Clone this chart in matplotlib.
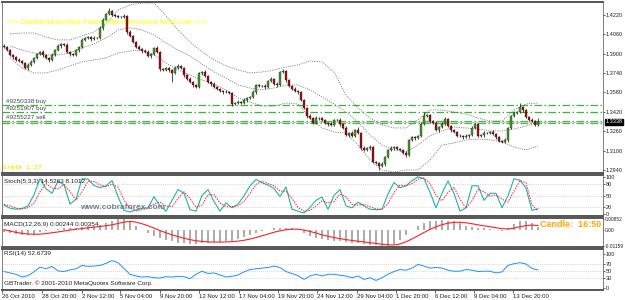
import numpy as np
import matplotlib.pyplot as plt
from matplotlib.transforms import blended_transform_factory

plt.rcParams['font.family'] = ['Liberation Sans', 'DejaVu Sans']

# ---- EURUSD H4 data ----
open_first = 1.3965
closes = [
    1.3956, 1.3931, 1.3890, 1.3873, 1.3848, 1.3840, 1.3824, 1.3782, 1.3807, 1.3832,
    1.3865, 1.3898, 1.3915, 1.3890, 1.3865, 1.3848, 1.3890, 1.3931, 1.3964, 1.3981,
    1.3972, 1.3915, 1.3898, 1.3890, 1.3931, 1.3956, 1.4014, 1.4030, 1.4038, 1.4022,
    1.4030, 1.4030, 1.4113, 1.4179, 1.4228, 1.4253, 1.4220, 1.4212, 1.4204, 1.4204,
    1.4212, 1.4080, 1.4047, 1.3997, 1.3956, 1.3939, 1.3923, 1.3915, 1.3881, 1.3898,
    1.3948, 1.3915, 1.3774, 1.3766, 1.3782, 1.3766, 1.3741, 1.3782, 1.3799, 1.3782,
    1.3725, 1.3692, 1.3667, 1.3642, 1.3625, 1.3741, 1.3749, 1.3716, 1.3667, 1.3650,
    1.3625, 1.3609, 1.3592, 1.3584, 1.3584, 1.3576, 1.3485, 1.3493, 1.3502, 1.3493,
    1.3518, 1.3535, 1.3543, 1.3584, 1.3642, 1.3634, 1.3634, 1.3625, 1.3675, 1.3692,
    1.3650, 1.3642, 1.3749, 1.3757, 1.3683, 1.3634, 1.3609, 1.3592, 1.3584, 1.3518,
    1.3452, 1.3386, 1.3369, 1.3328, 1.3369, 1.3369, 1.3353, 1.3328, 1.3320, 1.3312,
    1.3353, 1.3353, 1.3320, 1.3287, 1.3229, 1.3245, 1.3221, 1.3270, 1.3245, 1.3122,
    1.3105, 1.3122, 1.3130, 1.3006, 1.2998, 1.2973, 1.2989, 1.3047, 1.3105, 1.3122,
    1.3130, 1.3113, 1.3105, 1.3080, 1.3064, 1.3188, 1.3212, 1.3204, 1.3221, 1.3320,
    1.3386, 1.3394, 1.3345, 1.3328, 1.3270, 1.3295, 1.3320, 1.3361, 1.3303, 1.3270,
    1.3254, 1.3221, 1.3221, 1.3212, 1.3221, 1.3229, 1.3287, 1.3320, 1.3221, 1.3229,
    1.3245, 1.3245, 1.3254, 1.3237, 1.3212, 1.3179, 1.3171, 1.3188, 1.3287, 1.3386,
    1.3411, 1.3419, 1.3460, 1.3435, 1.3378, 1.3353, 1.3345, 1.3312, 1.3338,
]
# wick lengths in pips above / below the body
hi_pips = [
    12, 8, 10, 6, 9, 14, 7, 10, 15, 12, 8, 11, 9, 13, 7, 10, 12, 8, 14, 9,
    10, 13, 8, 12, 9, 11, 15, 10, 12, 9, 14, 8, 16, 12, 10, 25, 9, 12, 8, 11,
    14, 10, 12, 9, 11, 13, 8, 12, 15, 10, 9, 14, 11, 8, 12, 10, 9, 13, 16, 10,
    12, 9, 14, 11, 8, 12, 10, 15, 9, 11, 13, 10, 8, 12, 14, 9, 11, 10, 12, 8,
    13, 10, 9, 14, 12, 8, 11, 16, 10, 12, 9, 13, 11, 15, 10, 12, 9, 14, 8, 11,
    12, 10, 13, 9, 15, 11, 8, 12, 10, 14, 9, 11, 13, 10, 12, 9, 15, 11, 25, 10,
    12, 9, 14, 10, 11, 8, 13, 12, 10, 15, 9, 11, 12, 10, 14, 9, 12, 11, 10, 13,
    33, 12, 10, 9, 14, 11, 13, 17, 10, 12, 9, 11, 14, 10, 12, 9, 13, 11, 10, 12,
    15, 9, 11, 13, 10, 12, 9, 14, 11, 10, 13, 12, 33, 10, 12, 9, 14, 11, 31,
]
lo_pips = [
    9, 12, 10, 14, 8, 11, 13, 9, 16, 10, 12, 8, 11, 14, 9, 13, 10, 12, 8, 15,
    11, 9, 13, 10, 12, 14, 8, 11, 9, 13, 10, 12, 8, 14, 11, 9, 12, 10, 13, 9,
    11, 14, 9, 12, 10, 8, 13, 11, 9, 15, 12, 10, 14, 9, 11, 13, 74, 10, 12, 9,
    14, 11, 9, 13, 10, 12, 15, 9, 11, 14, 10, 12, 9, 13, 11, 10, 16, 9, 12, 11,
    10, 13, 9, 12, 15, 11, 10, 14, 9, 12, 11, 13, 10, 9, 14, 12, 11, 10, 13, 9,
    12, 14, 10, 11, 9, 13, 12, 10, 15, 11, 9, 12, 14, 10, 11, 13, 9, 12, 10, 14,
    11, 9, 13, 12, 10, 33, 11, 14, 9, 12, 13, 10, 11, 9, 15, 12, 10, 13, 11, 9,
    12, 10, 14, 11, 9, 13, 10, 12, 11, 14, 9, 12, 10, 13, 11, 15, 9, 12, 10, 11,
    13, 10, 12, 9, 14, 11, 10, 12, 13, 9, 11, 10, 12, 14, 9, 11, 13, 10, 12,
]

# Bollinger bands, read every 4th bar starting at bar 2
bb_upper = [1.4063, 1.4071, 1.4071, 1.4038, 1.4014, 1.4014, 1.4047, 1.4080, 1.4146, 1.4261,
            1.4303, 1.4319, 1.4319, 1.4212, 1.4096, 1.3997, 1.3915, 1.3848, 1.3799, 1.3766,
            1.3741, 1.3749, 1.3766, 1.3791, 1.3807, 1.3840, 1.3832, 1.3749, 1.3559, 1.3452,
            1.3369, 1.3312, 1.3287, 1.3287, 1.3353, 1.3435, 1.3435, 1.3419, 1.3402, 1.3369,
            1.3344, 1.3344, 1.3435, 1.3485, 1.3493]
bb_mid = [1.3964, 1.3931, 1.3906, 1.3890, 1.3890, 1.3906, 1.3948, 1.3981, 1.4030, 1.4096,
          1.4113, 1.4096, 1.4055, 1.3989, 1.3931, 1.3881, 1.3815, 1.3749, 1.3700, 1.3642,
          1.3617, 1.3601, 1.3617, 1.3642, 1.3642, 1.3601, 1.3543, 1.3485, 1.3419, 1.3336,
          1.3229, 1.3146, 1.3105, 1.3089, 1.3146, 1.3221, 1.3262, 1.3295, 1.3287, 1.3278,
          1.3262, 1.3262, 1.3278, 1.3303, 1.3336]
bb_lower = [1.3865, 1.3782, 1.3741, 1.3741, 1.3766, 1.3799, 1.3832, 1.3848, 1.3865, 1.3906,
            1.3923, 1.3931, 1.3890, 1.3824, 1.3766, 1.3725, 1.3683, 1.3650, 1.3601, 1.3535,
            1.3501, 1.3468, 1.3468, 1.3493, 1.3485, 1.3369, 1.3287, 1.3254, 1.3245, 1.3146,
            1.3022, 1.2940, 1.2923, 1.2940, 1.2940, 1.3022, 1.3146, 1.3163, 1.3188, 1.3196,
            1.3188, 1.3171, 1.3130, 1.3105, 1.3138]

# oscillators, read every 2nd bar
stoch_main = [24, 16, 13, 15, 22, 52, 95, 68, 56, 88, 79, 27, 40, 95, 94, 77, 71, 76, 90, 47,
              10, 6, 11, 16, 17, 47, 22, 8, 37, 66, 56, 12, 8, 50, 66, 34, 8, 30, 17, 27,
              49, 76, 93, 84, 78, 69, 47, 73, 13, 8, 3, 18, 37, 46, 13, 50, 66, 22, 17, 32,
              22, 13, 12, 13, 54, 85, 71, 76, 90, 100, 95, 59, 17, 56, 89, 56, 8, 17, 76, 76,
              37, 56, 56, 17, 49, 95, 91, 70, 10, 14.5263]
stoch_signal = [26, 22, 16, 14, 17, 30, 60, 82, 70, 68, 80, 60, 38, 60, 88, 88, 78, 74, 80, 72,
                38, 16, 9, 12, 15, 28, 32, 22, 20, 42, 60, 42, 18, 24, 52, 52, 30, 20, 20, 22,
                34, 56, 80, 88, 82, 76, 62, 62, 42, 18, 8, 10, 22, 36, 30, 34, 54, 46, 26, 24,
                26, 20, 14, 13, 28, 58, 78, 76, 82, 94, 97, 82, 50, 36, 58, 72, 40, 16, 36, 66,
                60, 48, 52, 40, 32, 62, 90, 84, 25, 8.1012]
macd_main = [-1.0, -2.0, -3.0, -3.5, -3.5, -2.5, -1.5, -0.5, 0.5, 1.0,
             1.5, 2.0, 2.0, 2.5, 3.0, 3.5, 4.0, 5.0, 6.5, 8.0,
             8.5, 6.0, 3.0, 0.5, -2.0, -4.0, -5.5, -7.0, -8.0, -9.0,
             -9.5, -10.0, -10.0, -9.5, -9.0, -8.5, -8.5, -8.0, -7.5, -6.5,
             -5.0, -3.5, -2.0, -0.5, 0.5, 1.5, 2.0, 2.0, 1.5, 0.0,
             -2.0, -4.0, -5.5, -6.5, -7.0, -7.5, -8.0, -8.5, -9.0, -9.5,
             -10.0, -10.5, -11.0, -11.5, -11.5, -10.0, -7.0, -3.5, 0.0, 3.0,
             5.0, 6.5, 7.0, 7.5, 7.0, 6.5, 5.0, 3.5, 2.5, 2.0,
             1.5, 1.0, 0.0, -0.5, 1.5, 4.5, 6.5, 7.0, 5.0, 2.44]
macd_signal = [0.5, -0.5, -1.5, -2.2, -2.7, -2.9, -2.8, -2.4, -1.8, -1.2,
               -0.5, 0.2, 0.8, 1.3, 1.8, 2.3, 2.8, 3.3, 4.0, 5.0,
               6.0, 6.5, 6.0, 4.8, 3.3, 1.6, -0.2, -1.8, -3.3, -4.6,
               -5.8, -6.8, -7.6, -8.1, -8.5, -8.6, -8.6, -8.5, -8.3, -7.9,
               -7.3, -6.4, -5.3, -4.0, -2.7, -1.4, -0.4, 0.4, 0.8, 0.8,
               0.2, -0.8, -2.0, -3.3, -4.4, -5.3, -6.1, -6.8, -7.4, -8.0,
               -8.5, -9.1, -9.6, -10.2, -10.6, -10.7, -10.0, -8.4, -6.3, -4.0,
               -1.6, 0.7, 2.6, 4.1, 5.2, 5.8, 5.9, 5.5, 4.8, 4.0,
               3.3, 2.6, 1.9, 1.2, 1.0, 1.6, 2.6, 3.5, 3.8, 3.54]
rsi = [48, 44, 40, 32, 36, 47, 61, 56, 63, 50, 48, 53, 56, 66, 63, 64, 66, 72, 80, 74,
       57, 40, 35, 32, 33, 30, 29, 33, 32, 34, 33, 27, 40, 49, 42, 44, 38, 32, 34, 38,
       47, 54, 56, 58, 60, 64, 60, 48, 42, 36, 25, 35, 40, 35, 40, 40, 37, 35, 30, 35,
       25, 30, 22, 30, 40, 48, 54, 52, 58, 69, 64, 58, 60, 58, 52, 49, 49, 54, 52, 48,
       49, 49, 44, 47, 66, 71, 74, 70, 57, 52.6739]

time_labels = ["26 Oct 2010", "28 Oct 20:00", "2 Nov 12:00", "5 Nov 04:00", "9 Nov 20:00",
               "12 Nov 12:00", "17 Nov 04:00", "19 Nov 20:00", "24 Nov 12:00", "29 Nov 04:00",
               "1 Dec 20:00", "6 Dec 12:00", "9 Dec 04:00", "13 Dec 20:00"]
time_label_bars = [-0.6, 12.7, 26, 38.7, 52, 65, 78.3, 91.3, 104.3, 117.7, 130.7, 143.7, 156.7, 169.7]

price_ticks = [1.4220, 1.4060, 1.3900, 1.3740, 1.3580, 1.3420, 1.3260, 1.3100, 1.2940]
trade_levels = [1.3477, 1.3416, 1.3345, 1.3326]
trade_names = ["#9250338 buy", "#9251907 buy", "#9255227 sell"]
bid = 1.3338

# ---- build ----
closes = np.array(closes)
n = len(closes)
idx = np.arange(n)
opens = np.r_[open_first, closes[:-1]]
highs = np.maximum(opens, closes) + np.array(hi_pips) * 1e-4
lows = np.minimum(opens, closes) - np.array(lo_pips) * 1e-4
osc_x = idx[::2]
bb_x = idx[2::4]

W, H = 625, 300
fig = plt.figure(figsize=(6.25, 3.0), dpi=100)
fig.patch.set_facecolor('white')


def panel(top, bottom):
    x0, x1 = 2, 603
    return fig.add_axes([x0 / W, 1 - bottom / H, (x1 - x0) / W, (bottom - top) / H])


ax = panel(2, 173)
ax_st = panel(175, 216)
ax_m = panel(218, 247)
ax_r = panel(249, 290)

FS = 4.6
TICK_FS = 4.0
TXT = '#202020'
for a in (ax, ax_st, ax_m, ax_r):
    a.set_xlim(-0.67, 199.67)
    a.yaxis.tick_right()
    a.tick_params(axis='y', labelsize=TICK_FS, length=1.5, width=0.5, pad=0.6, colors=TXT)
    a.tick_params(axis='x', length=0, labelbottom=False)
    for s in a.spines.values():
        s.set_color('#6a6a6a')
        s.set_linewidth(0.6)
    for side in ('top', 'bottom'):
        a.spines[side].set_linewidth(1.4)
        a.spines[side].set_color('#555555')

# main price panel
ax.set_ylim(1.2915, 1.4327)
ax.set_yticks(price_ticks)
ax.set_yticklabels([f'{p:.4f}' for p in price_ticks])

for lvl in trade_levels:
    ax.axhline(lvl, color='#34b834', lw=0.9, ls=(0, (6, 2, 1.2, 2)), zorder=1)
ax.axhline(bid, color='#cccccc', lw=0.9, zorder=1)

for band in (bb_upper, bb_mid, bb_lower):
    ax.plot(bb_x, band, color='#6e6e6e', lw=0.55, ls=(0, (1.5, 1.5)), zorder=2)

ax.vlines(idx, lows, highs, color='#1a1a1a', lw=0.55, zorder=3)
body = closes - opens
body = np.where(np.abs(body) < 0.0003, np.sign(body + 1e-9) * 0.0003, body)
cols = np.where(closes >= opens, '#3f9f1f', '#a40d0d')
ax.bar(idx, body, bottom=opens, width=0.75, color=cols, edgecolor='#1a1a1a',
       linewidth=0.25, zorder=4)

tr = blended_transform_factory(ax.transAxes, ax.transData)
for name, lvl in zip(trade_names, trade_levels):
    ax.text(0.006, lvl + 0.0008, name, transform=tr, fontsize=FS, color='#404458',
            va='bottom', ha='left')

ax.text(0.006, 0.883, '>>> Download tai Maxi-Forex: http://www.maxi-forex.com <<<',
        transform=ax.transAxes, fontsize=5.3, color='#ffff00',
        va='center', ha='left')
ax.text(0.001, 0.035, 'Gratk 1.27', transform=ax.transAxes, fontsize=4.6,
        color='#f0f000', family='DejaVu Sans Mono', weight='bold', va='center')
ax.text(1.004, bid, f'{bid:.4f}', transform=tr, fontsize=TICK_FS, color='white',
        va='center', ha='left',
        bbox=dict(boxstyle='square,pad=0.1', fc='black', ec='black'))

# stochastic
ax_st.set_ylim(-5, 105)
for lvl in (20, 50, 80):
    ax_st.axhline(lvl, color='#d4c4c4', lw=0.5, ls=(0, (1.5, 1.5)))
ax_st.plot(osc_x, stoch_main, color='#20b2aa', lw=0.8)
ax_st.plot(osc_x, stoch_signal, color='#ff2020', lw=0.7, ls=(0, (1.5, 1.2)))
ax_st.set_yticks([0, 20, 50, 80, 100])
ax_st.set_yticklabels(['0', '20', '50', '80', '100'])
ax_st.text(0.004, 0.84, 'Stoch(5,3,3) 14.5263 8.1012', transform=ax_st.transAxes,
           fontsize=FS, color=TXT, va='center')
ax_st.text(0.13, 0.2, 'www.cobraforex.com', transform=ax_st.transAxes, fontsize=6,
           color='#6f7f99', weight='bold', va='center')

# MACD
ax_m.set_ylim(-0.0122, 0.0090)
ax_m.bar(osc_x, np.array(macd_main) * 1e-3, width=0.8, color='#acacac', zorder=2)
ax_m.plot(osc_x, np.array(macd_signal) * 1e-3, color='#ff2020', lw=0.8, zorder=3)
ax_m.set_yticks([0.00852, 0.0, -0.01159])
ax_m.set_yticklabels(['0.00852', '0.00', '-0.01159'])
ax_m.tick_params(axis='y', labelsize=3.5, pad=0.3, length=1)
ax_m.text(0.004, 0.79, 'MACD(12,26,9) 0.00244 0.00354', transform=ax_m.transAxes,
          fontsize=FS, color=TXT, va='center')
ax_m.text(0.895, 0.76, 'Candle:  16:50', transform=ax_m.transAxes, fontsize=6.5,
          color='#ffa500', weight='bold', va='center')

# RSI
ax_r.set_ylim(-6, 114)
for lvl in (30, 50, 70):
    ax_r.axhline(lvl, color='#d4c4c4', lw=0.5, ls=(0, (1.5, 1.5)))
ax_r.plot(osc_x, rsi, color='#1e90ff', lw=0.7)
ax_r.set_yticks([0, 30, 50, 70, 100])
ax_r.set_yticklabels(['0', '30', '50', '70', '100'])
ax_r.text(0.004, 0.88, 'RSI(14) 52.6739', transform=ax_r.transAxes,
          fontsize=FS, color=TXT, va='center')
ax_r.text(0.004, 0.17, 'GBTrader. \u00a9 2001-2010 MetaQuotes Software Corp.',
          transform=ax_r.transAxes, fontsize=FS, color=TXT, va='center')

ax_r.set_xticks(time_label_bars)
ax_r.set_xticklabels(time_labels, ha='left')
ax_r.tick_params(axis='x', length=2.5, width=0.5, labelsize=4.3, pad=0.5,
                 labelbottom=True, colors=TXT)

fig.savefig('out.png', dpi=100, facecolor='white')
